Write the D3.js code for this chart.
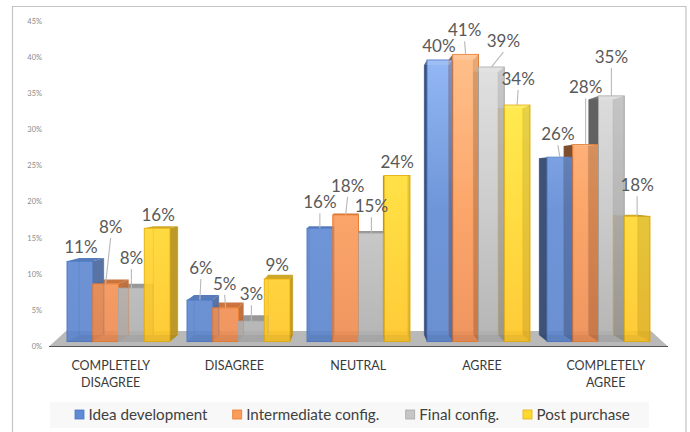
<!DOCTYPE html>
<html><head><meta charset="utf-8">
<script src="https://cdn.jsdelivr.net/npm/d3@7"></script>
<style>html,body{margin:0;padding:0;background:#fff}svg{display:block}text{font-family:Lato,"Open Sans",sans-serif}</style>
</head><body><svg id="c" width="690" height="432"></svg>
<script>
// ---- data (percent) ----
const categories = [["COMPLETELY","DISAGREE"],["DISAGREE"],["NEUTRAL"],["AGREE"],["COMPLETELY","AGREE"]];
const seriesNames = ["Idea development","Intermediate config.","Final config.","Post purchase"];
const ideaDevelopment = [11.4, 5.9, 16.1, 40.0, 26.2];
const intermediateConfig = [8.2, 4.8, 18.0, 40.8, 28.0];
const finalConfig = [7.6, 2.9, 15.4, 39.0, 34.9];
const postPurchase = [16.1, 8.9, 23.6, 33.6, 17.8];
const axisTicks = [0,5,10,15,20,25,30,35,40,45];

// ---- styles and layout ----
const allValues = [ideaDevelopment, intermediateConfig, finalConfig, postPurchase];
const colors = [
 {stops:["#8ab2f6","#5f8ad4","#5a84cc"],edge:"#4a76c4",top:"#4a70b4",right:"#4f6c9f",left:"#3b4f73"},
 {stops:["#ffb97e","#fb9c5a","#ee8a4f"],edge:"#e8792c",top:"#c8682c",right:"#bd6c38",left:"#7b4b2b"},
 {stops:["#dfdfdf","#c6c6c6","#adadad"],edge:"#a9a9a9",top:"#8e8e8e",right:"#a8a8a0",left:"#5e5e5e"},
 {stops:["#fff044","#ffd92e","#ffc522"],edge:"#e6ae0c",top:"#c9a11b",right:"#b8941f",left:"#8a7020"}
];
// label offset from the bar's top-centre: [dx, dy]
const labelOffsets = [
 [[1,-14],[5,-57],[0,-30],[1,-13]],
 [[1,-32],[-1,-24],[0,-27],[0,-14]],
 [[0,-26],[2,-29],[0,-27],[0,-13]],
 [[-1,-14],[-1,-24],[12,-26],[1,-26]],
 [[-2,-23],[0,-57],[0,-39],[0,-31]]
];
const k = 0.042, vpX = 358, vpY = 182, baseY = 341.6;

const svg = d3.select("#c");
const defs = svg.append("defs");
colors.forEach((c,i)=>{
  const g = defs.append("linearGradient").attr("id","g"+i).attr("gradientUnits","userSpaceOnUse")
    .attr("x1",0).attr("x2",0).attr("y1",50).attr("y2",342);
  c.stops.forEach((s,j)=>g.append("stop").attr("offset",[0,.55,1][j]).attr("stop-color",s));
});

// frame
svg.append("path").attr("d","M12.5,432V6.5H686V432").attr("fill","none").attr("stroke","#c4c4c4").attr("stroke-width",1.2);

// axis
const axisY = d3.scaleLinear().domain([0,45]).range([346,21]);
const ax = svg.append("g").attr("transform","translate(42,0)")
  .call(d3.axisLeft(axisY).tickValues(axisTicks).tickSize(0).tickPadding(0).tickFormat(d=>d+"%"));
ax.select(".domain").remove();
ax.selectAll("text").attr("fill","#8a8a8a").style("font-size","7.5px").style("font-family","Lato,sans-serif");

// floor
svg.append("path").attr("d","M49,346.5L66,331H651L668,346.5Z").attr("fill","#b9b9b9");
svg.append("line").attr("x1",49).attr("x2",668).attr("y1",346.5).attr("y2",346.5).attr("stroke","#555").attr("stroke-width",1.2);

// scales
const x0 = d3.scaleBand().domain(d3.range(5)).range([58.5,658.5]).paddingInner(17/120).paddingOuter(17/240);
const x1 = d3.scaleBand().domain(d3.range(4)).range([0,x0.bandwidth()]);
const y = d3.scaleLinear().domain([0,41]).range([baseY,baseY-41*7.04]);

const bx = (a)=>a+(vpX-a)*k, by = (b)=>b+(vpY-b)*k;
const bars = [];
allValues.forEach((vals,s)=>vals.forEach((v,c)=>{
  const l = x0(c)+x1(s), r = l+x1.bandwidth(), t = y(v);
  bars.push({s,c,v,l,r,t});
}));
const poly = pts=>"M"+pts.map(p=>p.join(",")).join("L")+"Z";
const faceTop = d=>poly([[d.l,d.t],[d.r,d.t],[bx(d.r),by(d.t)],[bx(d.l),by(d.t)]]);
const faceRight = d=>poly([[d.r,d.t],[bx(d.r),by(d.t)],[bx(d.r),by(baseY)],[d.r,baseY]]);
const faceLeft = d=>poly([[d.l,d.t],[bx(d.l),by(d.t)],[bx(d.l),by(baseY)],[d.l,baseY]]);
const faceBottom = d=>poly([[d.l,baseY],[d.r,baseY],[bx(d.r),by(baseY)],[bx(d.l),by(baseY)]]);

// outer (visible) faces
const g = svg.append("g");
g.selectAll(".oTop").data(bars.filter(d=>by(d.t)<d.t)).join("path").attr("d",faceTop).attr("fill",d=>colors[d.s].top).attr("opacity",.92);
g.selectAll(".oRight").data(bars.filter(d=>bx(d.r)>d.r+.5)).join("path").attr("d",faceRight).attr("fill",d=>colors[d.s].right).attr("opacity",.95);
g.selectAll(".oLeft").data(bars.filter(d=>bx(d.l)<d.l-.5)).join("path").attr("d",faceLeft).attr("fill",d=>colors[d.s].left).attr("opacity",.98);

// fronts
g.selectAll(".front").data(bars).join("rect")
  .attr("x",d=>d.l).attr("width",d=>d.r-d.l).attr("y",d=>d.t).attr("height",d=>baseY-d.t)
  .attr("fill",d=>`url(#g${d.s})`).attr("fill-opacity",.9)
  .attr("stroke",d=>colors[d.s].edge).attr("stroke-width",.9);

// faces seen through the translucent fronts
g.selectAll(".iRight").data(bars.filter(d=>bx(d.r)<d.r-.5)).join("path").attr("d",faceRight).attr("fill","#000").attr("opacity",.1);
g.selectAll(".iTop").data(bars.filter(d=>by(d.t)>d.t)).join("path").attr("d",faceTop).attr("fill","#fff").attr("opacity",.12);
g.selectAll(".iBottom").data(bars).join("path").attr("d",faceBottom).attr("fill","#000").attr("opacity",.05);
g.selectAll(".edgeL").data(bars).join("line")
  .attr("x1",d=>bx(d.l)).attr("x2",d=>bx(d.l)).attr("y1",d=>by(d.t)).attr("y2",d=>by(baseY))
  .attr("stroke",d=>colors[d.s].edge).attr("stroke-opacity",.4).attr("stroke-width",.8);
g.selectAll(".edgeR").data(bars).join("line")
  .attr("x1",d=>bx(d.r)).attr("x2",d=>bx(d.r)).attr("y1",d=>by(d.t)).attr("y2",d=>by(baseY))
  .attr("stroke",d=>colors[d.s].edge).attr("stroke-opacity",.4).attr("stroke-width",.8);

// leaders and value labels
bars.forEach(d=>{
  const [dx,dy] = labelOffsets[d.c][d.s];
  d.cx = (d.l+d.r)/2; d.lx = d.cx+dx; d.ly = d.t+dy;
});
svg.append("g").selectAll("line").data(bars.filter(d=>d.ly<d.t-18)).join("line")
  .attr("x1",d=>d.lx).attr("y1",d=>d.ly+11).attr("x2",d=>d.cx).attr("y2",d=>d.t)
  .attr("stroke","#b8b8b8").attr("stroke-width",1.1);
svg.append("g").selectAll("text").data(bars).join("text")
  .attr("x",d=>d.lx).attr("y",d=>d.ly+6).attr("text-anchor","middle")
  .attr("fill","#595959").style("font-size","17px").text(d=>Math.round(d.v)+"%");

// category labels
const xLab = d3.scalePoint().domain(d3.range(5)).range([110.7,605.7]);
const cat = svg.append("g").selectAll("text").data(categories).join("text")
  .attr("text-anchor","middle").attr("fill","#3a3a3a").style("font-size","12.5px")
  .attr("transform",(d,i)=>`translate(${xLab(i)},369.5)`);
cat.selectAll("tspan").data(d=>d).join("tspan").attr("x",0).attr("dy",(d,i)=>i?17.5:0).text(d=>d);

// legend
svg.append("rect").attr("x",50).attr("y",402).attr("width",599).attr("height",26).attr("fill","#f8f8f8");
const legendX = d3.scaleOrdinal().domain(seriesNames).range([75,232.7,405.7,523]);
const leg = svg.append("g").selectAll("g").data(seriesNames).join("g")
  .attr("transform",d=>`translate(${legendX(d)},410)`);
leg.append("rect").attr("width",9).attr("height",9).attr("fill",(d,i)=>colors[i].stops[1]).attr("stroke",(d,i)=>colors[i].edge).attr("stroke-width",.8);
leg.append("text").attr("x",13.5).attr("y",9.7).attr("fill","#404040").style("font-size","15.2px").text(d=>d);
</script></body></html>
